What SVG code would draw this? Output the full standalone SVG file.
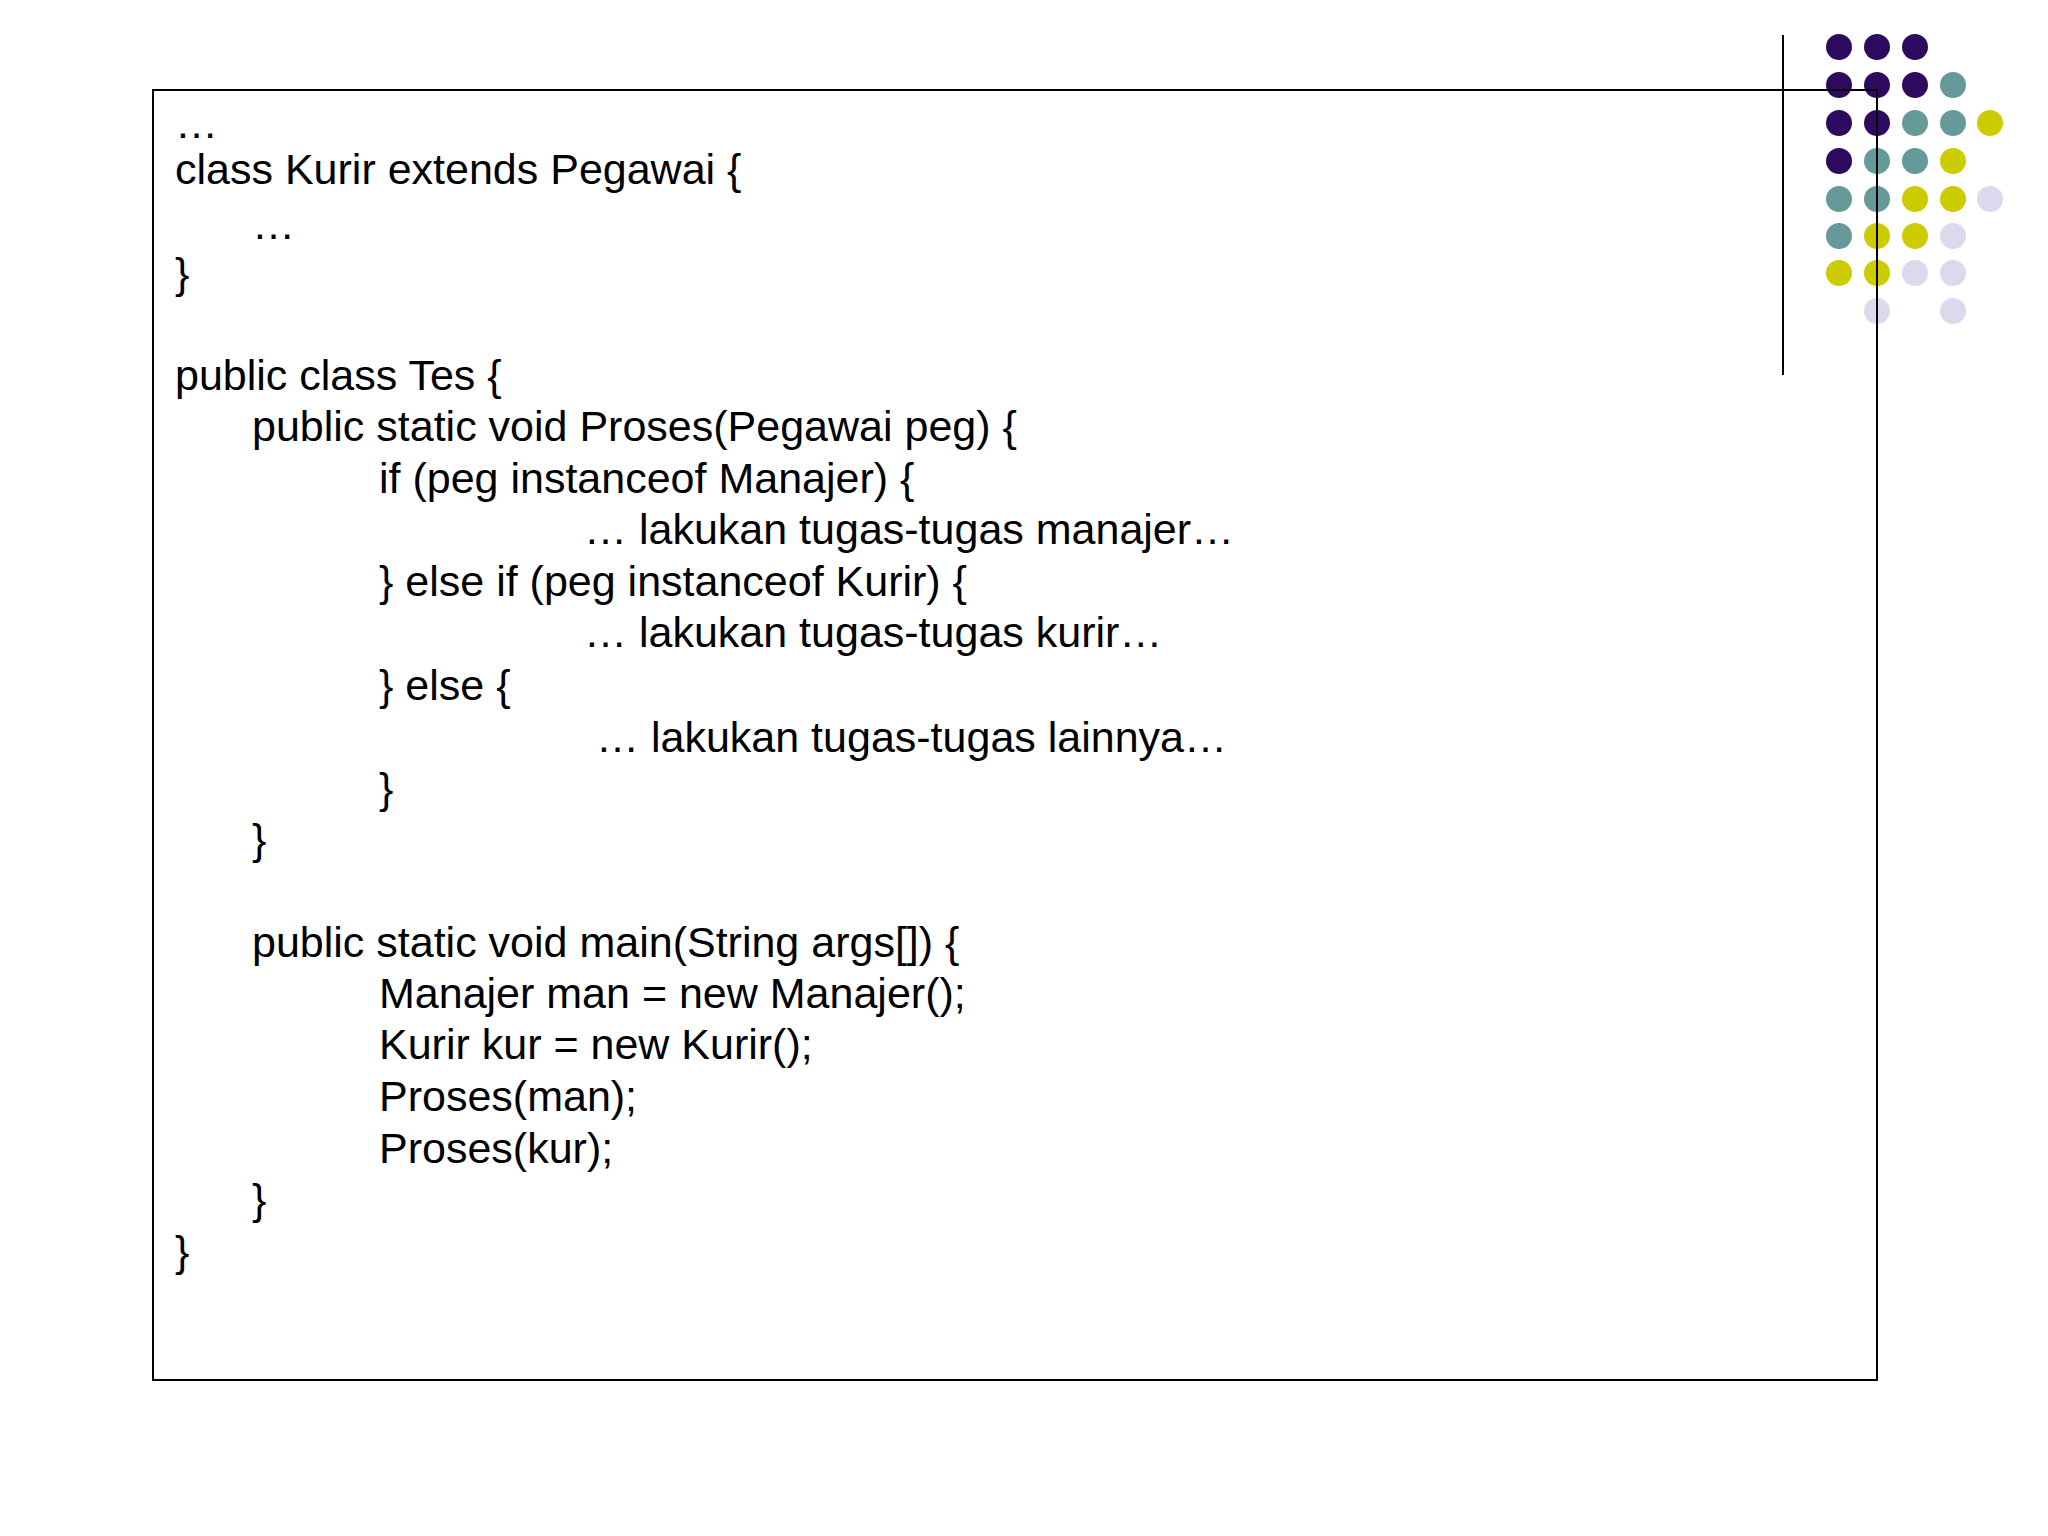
<svg xmlns="http://www.w3.org/2000/svg" width="2048" height="1536" viewBox="0 0 2048 1536">
<style>
text{font-family:"Liberation Sans",Arial,sans-serif;font-size:43px;fill:#000}
.p{fill:#2e0a5e}.t{fill:#669999}.y{fill:#cccc00}.l{fill:#dcd9ee}
</style>
<rect width="2048" height="1536" fill="#fff"/>
<g id="deco">
<circle class="p" cx="1839" cy="47" r="13"/><circle class="p" cx="1877" cy="47" r="13"/><circle class="p" cx="1915" cy="47" r="13"/>
<circle class="p" cx="1839" cy="85" r="13"/><circle class="p" cx="1877" cy="85" r="13"/><circle class="p" cx="1915" cy="85" r="13"/><circle class="t" cx="1953" cy="85" r="13"/>
<circle class="p" cx="1839" cy="123" r="13"/><circle class="p" cx="1877" cy="123" r="13"/><circle class="t" cx="1915" cy="123" r="13"/><circle class="t" cx="1953" cy="123" r="13"/><circle class="y" cx="1990" cy="123" r="13"/>
<circle class="p" cx="1839" cy="161" r="13"/><circle class="t" cx="1877" cy="161" r="13"/><circle class="t" cx="1915" cy="161" r="13"/><circle class="y" cx="1953" cy="161" r="13"/>
<circle class="t" cx="1839" cy="199" r="13"/><circle class="t" cx="1877" cy="199" r="13"/><circle class="y" cx="1915" cy="199" r="13"/><circle class="y" cx="1953" cy="199" r="13"/><circle class="l" cx="1990" cy="199" r="13"/>
<circle class="t" cx="1839" cy="236" r="13"/><circle class="y" cx="1877" cy="236" r="13"/><circle class="y" cx="1915" cy="236" r="13"/><circle class="l" cx="1953" cy="236" r="13"/>
<circle class="y" cx="1839" cy="273" r="13"/><circle class="y" cx="1877" cy="273" r="13"/><circle class="l" cx="1915" cy="273" r="13"/><circle class="l" cx="1953" cy="273" r="13"/>
<circle class="l" cx="1877" cy="311" r="13"/><circle class="l" cx="1953" cy="311" r="13"/>
<line x1="1783" y1="35" x2="1783" y2="375" stroke="#000" stroke-width="2"/>
</g>
<g id="box"><rect x="153" y="90" width="1724" height="1290" fill="none" stroke="#000" stroke-width="2"/></g>
<g id="code">
<text x="175" y="138">…</text>
<text x="175" y="184">class Kurir extends Pegawai {</text>
<text x="252" y="239">…</text>
<text x="175" y="288">}</text>
<text x="175" y="390">public class Tes {</text>
<text x="252" y="441">public static void Proses(Pegawai peg) {</text>
<text x="379" y="493">if (peg instanceof Manajer) {</text>
<text x="584" y="544">… lakukan tugas-tugas manajer…</text>
<text x="379" y="596">} else if (peg instanceof Kurir) {</text>
<text x="584" y="647">… lakukan tugas-tugas kurir…</text>
<text x="379" y="700">} else {</text>
<text x="596" y="752">… lakukan tugas-tugas lainnya…</text>
<text x="379" y="803">}</text>
<text x="252" y="854">}</text>
<text x="252" y="957">public static void main(String args[]) {</text>
<text x="379" y="1008">Manajer man = new Manajer();</text>
<text x="379" y="1059">Kurir kur = new Kurir();</text>
<text x="379" y="1111">Proses(man);</text>
<text x="379" y="1163">Proses(kur);</text>
<text x="252" y="1214">}</text>
<text x="175" y="1266">}</text>
</g>
</svg>
